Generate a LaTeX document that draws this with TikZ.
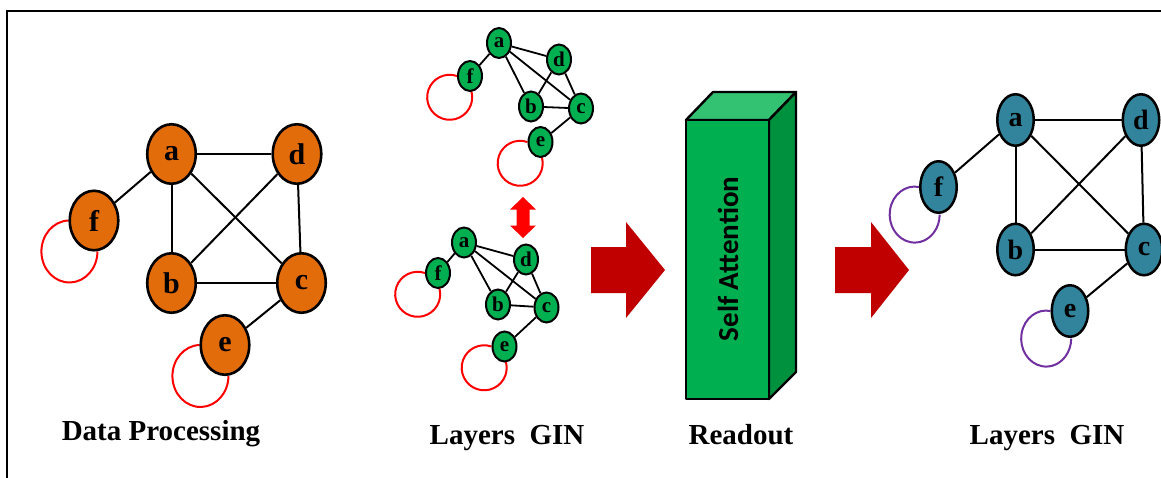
\documentclass[tikz,border=0pt]{standalone}
\usepackage{fontspec}
\setmainfont{Liberation Serif}
\newfontfamily\calfont{Carlito}
\usetikzlibrary{shapes.geometric,backgrounds}
\definecolor{orng}{HTML}{E36C0A}
\definecolor{grn}{HTML}{00B050}
\definecolor{grntop}{HTML}{33C172}
\definecolor{grnside}{HTML}{00913F}
\definecolor{tealn}{HTML}{31849B}
\definecolor{loopred}{HTML}{FF0000}
\definecolor{lpurple}{HTML}{7030A0}
\definecolor{dred}{HTML}{C00000}
\begin{document}
\begin{tikzpicture}[x=1pt,y=-1pt,
  bignode/.style={ellipse, draw=black, line width=2.6pt, fill=orng, minimum width=48.5pt, minimum height=59.5pt, inner sep=0pt, font=\bfseries\fontsize{30}{30}\selectfont},
  smallnode/.style={ellipse, draw=black, line width=2pt, fill=grn, minimum width=24pt, minimum height=30pt, inner sep=0pt, font=\bfseries\fontsize{21}{21}\selectfont},
  tnode/.style={ellipse, draw=black, line width=2.5pt, fill=tealn, minimum width=36.5pt, minimum height=51.5pt, inner sep=0pt, font=\bfseries\fontsize{28}{28}\selectfont},
  edge/.style={draw=black, line width=2pt},
  sedge/.style={draw=black, line width=1.8pt},
  rloop/.style={draw=loopred, line width=2pt},
  ploop/.style={draw=lpurple, line width=2pt},
  lbl/.style={font=\bfseries\fontsize{29}{29}\selectfont, anchor=base, inner sep=0pt},
  blockarrow/.style={fill=dred, draw=none}
]
\useasboundingbox (0,0) rectangle (1161,477);
\clip (0,0) rectangle (1161,477);
\begin{pgfonlayer}{background}
\fill[white] (0,0) rectangle (1161,477);
\end{pgfonlayer}
% frame
\draw[line width=2pt] (7,500) -- (7,10.5) -- (1200,10.5);

% ---------- left graph ----------
\node[bignode] (la) at (171.5,154) {a};
\node[bignode] (ld) at (297,154) {d};
\node[bignode] (lf) at (94,220.5) {f};
\node[bignode] (lb) at (171.5,283) {b};
\node[bignode] (lc) at (301.5,283) {c};
\node[bignode] (le) at (225,345) {e};
\draw[edge] (la) -- (ld);
\draw[edge] (la) -- (lb);
\draw[edge] (la) -- (lc);
\draw[edge] (la) -- (lf);
\draw[edge] (ld) -- (lb);
\draw[edge] (ld) -- (lc);
\draw[edge] (lb) -- (lc);
\draw[edge] (lc) -- (le);

% ---------- middle top graph ----------
\node[smallnode] (ta) at (499,43) {a};
\node[smallnode] (td) at (559,59.5) {d};
\node[smallnode] (tf) at (470,76) {f};
\node[smallnode] (tb) at (531,106.5) {b};
\node[smallnode] (tc) at (581,108.5) {c};
\node[smallnode] (te) at (540.5,142) {e};
\draw[sedge] (ta) -- (td);
\draw[sedge] (ta) -- (tb);
\draw[sedge] (ta) -- (tc);
\draw[sedge] (ta) -- (tf);
\draw[sedge] (td) -- (tb);
\draw[sedge] (td) -- (tc);
\draw[sedge] (tb) -- (tc);
\draw[sedge] (tc) -- (te);

% ---------- middle bottom graph ----------
\node[smallnode] (ba) at (464,242.5) {a};
\node[smallnode] (bd) at (526,259.5) {d};
\node[smallnode] (bf) at (438,273) {f};
\node[smallnode] (bb) at (498,304.5) {b};
\node[smallnode] (bc) at (546.5,307.5) {c};
\node[smallnode] (be) at (504.5,346.5) {e};
\draw[sedge] (ba) -- (bd);
\draw[sedge] (ba) -- (bb);
\draw[sedge] (ba) -- (bc);
\draw[sedge] (ba) -- (bf);
\draw[sedge] (bd) -- (bb);
\draw[sedge] (bd) -- (bc);
\draw[sedge] (bb) -- (bc);
\draw[sedge] (bc) -- (be);

% ---------- right graph ----------
\node[tnode] (ra) at (1015.5,120) {a};
\node[tnode] (rd) at (1141,120) {d};
\node[tnode] (rf) at (938.5,187) {f};
\node[tnode] (rb) at (1015.5,249.5) {b};
\node[tnode] (rc) at (1144,249.5) {c};
\node[tnode] (re) at (1070,311) {e};
\draw[edge] (ra) -- (rd);
\draw[edge] (ra) -- (rb);
\draw[edge] (ra) -- (rc);
\draw[edge] (ra) -- (rf);
\draw[edge] (rd) -- (rb);
\draw[edge] (rd) -- (rc);
\draw[edge] (rb) -- (rc);
\draw[edge] (rc) -- (re);

% self loops (behind the nodes)
\begin{pgfonlayer}{background}
\draw[rloop] (lf.west) arc[start angle=-92, end angle=-360, x radius=28, y radius=31];
\draw[rloop] (le.west) arc[start angle=-92, end angle=-360, x radius=28, y radius=31];
\draw[rloop] (tf.west) arc[start angle=-71, end angle=-378, radius=22.5];
\draw[rloop] (te.west) arc[start angle=-71, end angle=-378, radius=22.5];
\draw[rloop] (bf.west) arc[start angle=-71, end angle=-378, radius=22.5];
\draw[rloop] (be.west) arc[start angle=-71, end angle=-378, radius=22.5];
\draw[ploop] (rf.west) arc[start angle=-80, end angle=-360, x radius=25, y radius=28];
\draw[ploop] (re.west) arc[start angle=-80, end angle=-360, x radius=25, y radius=28];
\end{pgfonlayer}

% red double arrow
\fill[loopred] (523,197) -- (536,209.5) -- (529.5,209.5) -- (529.5,225.5) -- (536,225.5)
  -- (523,238) -- (510,225.5) -- (516.5,225.5) -- (516.5,209.5) -- (510,209.5) -- cycle;

% block arrows
\fill[blockarrow] (591,247) -- (626,247) -- (626,222) -- (665,270) -- (626,318) -- (626,293) -- (591,293) -- cycle;
\fill[blockarrow] (835,247) -- (871,247) -- (871,222) -- (909,270) -- (871,318) -- (871,293) -- (835,293) -- cycle;

% 3D box
\filldraw[fill=grntop, draw=black, line width=2.4pt, line join=round] (686,120) -- (713,92) -- (796,92) -- (769,120) -- cycle;
\filldraw[fill=grnside, draw=black, line width=2.4pt, line join=round] (769,120) -- (796,92) -- (796,372) -- (769,399) -- cycle;
\filldraw[fill=grn, draw=black, line width=2.4pt, line join=round] (686,120) rectangle (769,399);
\node[rotate=90, font=\calfont\bfseries\fontsize{29}{29}\selectfont, inner sep=0pt] (sa) at (728,259) {Self Attention};

% labels
\node[lbl] (l1) at (161,440) {Data Processing};
\node[lbl] (l2) at (507,444) {Layers\ \ GIN};
\node[lbl] (l3) at (741,444) {Readout};
\node[lbl] (l4) at (1047,444) {Layers\ \ GIN};
\end{tikzpicture}
\end{document}
